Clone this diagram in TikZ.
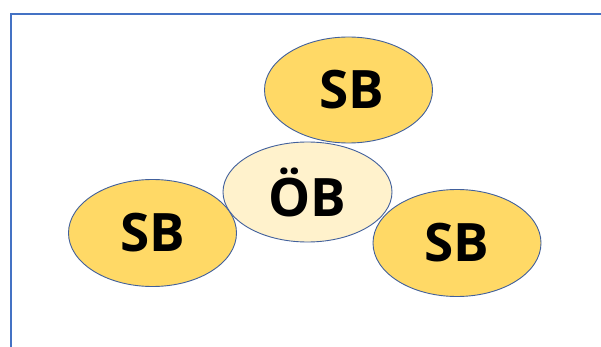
\documentclass[tikz,border=0pt]{standalone}
\usepackage{fontspec}
\setmainfont{Open Sans}
\usetikzlibrary{shapes.geometric}
\definecolor{frameblue}{HTML}{4472C4}
\definecolor{edgeblue}{HTML}{41609C}
\definecolor{sbfill}{HTML}{FFD966}
\definecolor{obfill}{HTML}{FFF2CC}
\tikzset{
  bubble/.style={ellipse, draw=edgeblue, line width=0.9pt, inner sep=0pt,
    font=\fontsize{53}{53}\selectfont\bfseries, text=black},
  sbbubble/.style={bubble, fill=sbfill, minimum width=168pt, minimum height=107pt},
  obbubble/.style={bubble, fill=obfill, minimum width=169pt, minimum height=100pt},
}
\begin{document}
\begin{tikzpicture}[x=1pt,y=-1pt]
\useasboundingbox (0,0) rectangle (601,347);
\fill[white] (0,0) rectangle (601,347);
\coordinate (fb) at (11,347);
\coordinate (fc) at (11,14);
\coordinate (fr) at (601,14);
\draw[frameblue, line width=2.2pt] (fb) -- (fc) -- (fr);
\node[sbbubble] (sbl) at (152.5,233) {SB\hspace{10pt}};
\node[sbbubble] (sbr) at (457,243) {SB};
\node[obbubble] (ob) at (307.5,192) {ÖB};
\node[sbbubble, minimum height=106pt] (sbt) at (348.5,90) {\hspace{6pt}SB};
\end{tikzpicture}
\end{document}
